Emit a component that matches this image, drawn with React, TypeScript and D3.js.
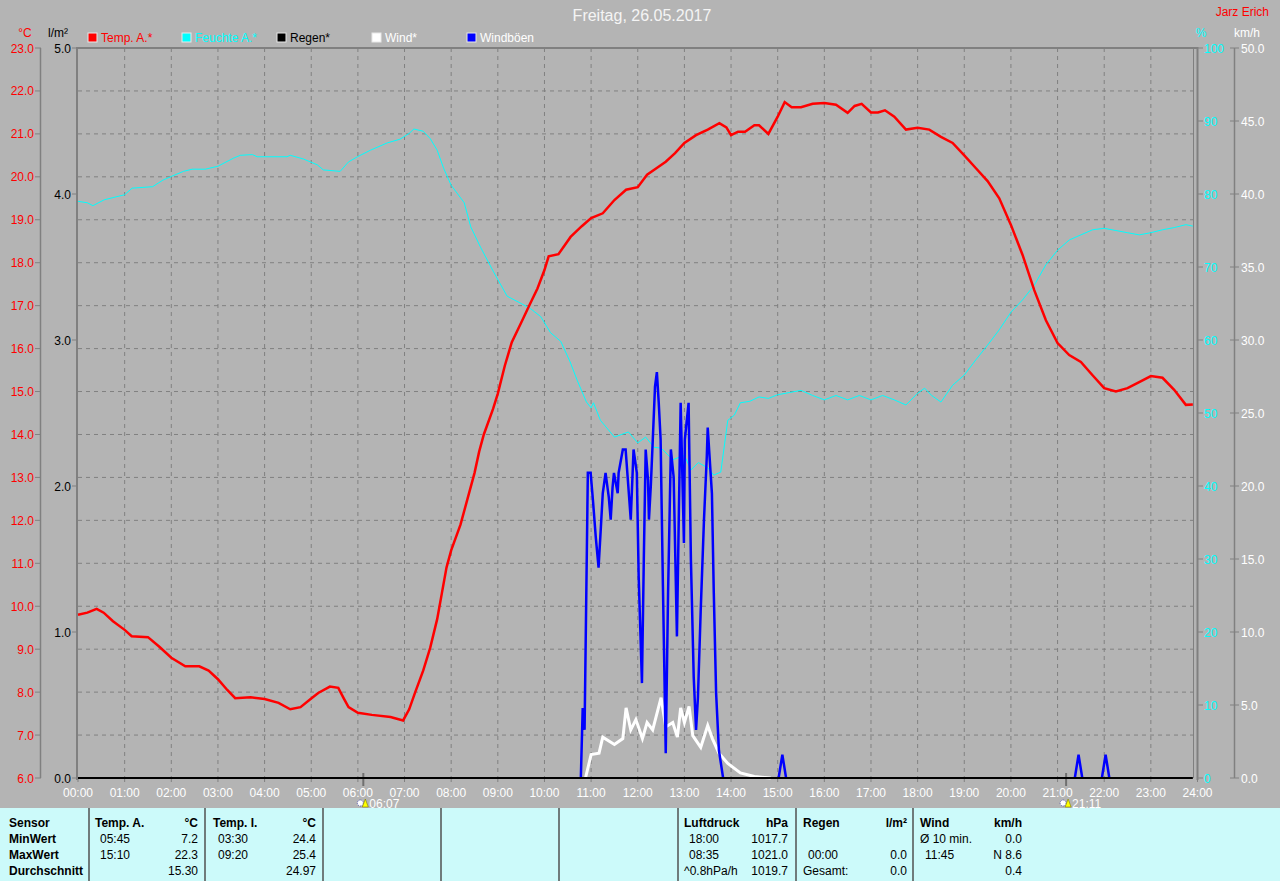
import * as d3 from 'd3';

// --- data (hour of day, value) ---
const tempA: [number, number][] = [
  [0, 9.8], [0.2, 9.85], [0.4, 9.94], [0.55, 9.85], [0.75, 9.65], [1.0, 9.45], [1.15, 9.3], [1.5, 9.28],
  [1.75, 9.05], [2.0, 8.8], [2.3, 8.6], [2.6, 8.6], [2.8, 8.5], [3.0, 8.3], [3.2, 8.05], [3.37, 7.86],
  [3.7, 7.88], [4.0, 7.84], [4.3, 7.75], [4.55, 7.6], [4.77, 7.65], [5.0, 7.85], [5.15, 7.98], [5.4, 8.13],
  [5.58, 8.1], [5.7, 7.85], [5.8, 7.65], [6.0, 7.52], [6.3, 7.47], [6.7, 7.42], [6.97, 7.34], [7.1, 7.6],
  [7.23, 8.0], [7.4, 8.5], [7.55, 9.03], [7.7, 9.7], [7.8, 10.3], [7.9, 10.9], [8.0, 11.3], [8.2, 11.9],
  [8.35, 12.5], [8.5, 13.1], [8.6, 13.6], [8.7, 14.0], [8.9, 14.6], [9.0, 14.95], [9.15, 15.6], [9.3, 16.15],
  [9.5, 16.6], [9.7, 17.06], [9.85, 17.4], [10.0, 17.83], [10.09, 18.15], [10.3, 18.2], [10.56, 18.6],
  [10.8, 18.85], [11.0, 19.04], [11.25, 19.15], [11.5, 19.46], [11.75, 19.7], [12.0, 19.76], [12.2, 20.05],
  [12.4, 20.2], [12.6, 20.35], [12.8, 20.55], [13.0, 20.79], [13.25, 20.97], [13.5, 21.1], [13.75, 21.25],
  [13.9, 21.15], [14.0, 20.97], [14.15, 21.05], [14.3, 21.05], [14.5, 21.2], [14.6, 21.2], [14.8, 21.0],
  [15.0, 21.4], [15.15, 21.74], [15.3, 21.62], [15.5, 21.62], [15.75, 21.7], [16.0, 21.72], [16.25, 21.68],
  [16.5, 21.49], [16.65, 21.65], [16.8, 21.7], [17.0, 21.5], [17.15, 21.5], [17.3, 21.55], [17.5, 21.4],
  [17.75, 21.1], [18.0, 21.14], [18.25, 21.1], [18.5, 20.93], [18.75, 20.79], [19.0, 20.5], [19.25, 20.2],
  [19.5, 19.9], [19.75, 19.5], [20.0, 18.88], [20.25, 18.18], [20.5, 17.36], [20.75, 16.66], [21.0, 16.13],
  [21.25, 15.85], [21.5, 15.69], [21.75, 15.38], [22.0, 15.08], [22.25, 15.0], [22.5, 15.08], [22.75, 15.22],
  [23.0, 15.36], [23.25, 15.32], [23.5, 15.04], [23.75, 14.69], [23.9, 14.7],
];

const feuchteA: [number, number][] = [
  [0, 79.0], [0.2, 78.8], [0.32, 78.4], [0.56, 79.2], [1.0, 79.9], [1.16, 80.8], [1.6, 81.0], [1.82, 81.9],
  [2.0, 82.4], [2.26, 83.1], [2.45, 83.4], [2.73, 83.4], [3.0, 83.8], [3.33, 84.9], [3.48, 85.3], [3.74, 85.4],
  [3.84, 85.1], [4.48, 85.1], [4.55, 85.3], [4.83, 84.8], [5.13, 84.0], [5.26, 83.3], [5.62, 83.1], [5.8, 84.4],
  [5.99, 85.1], [6.27, 86.0], [6.63, 87.0], [6.9, 87.5], [7.1, 88.3], [7.2, 88.9], [7.4, 88.6], [7.55, 87.6],
  [7.7, 86.0], [7.84, 83.5], [8.0, 81.2], [8.28, 78.8], [8.42, 75.5], [8.63, 72.7], [8.92, 69.2], [9.2, 66.0],
  [9.5, 65.0], [9.7, 64.3], [9.92, 63.2], [10.13, 61.0], [10.35, 59.8], [10.55, 57.0], [10.7, 54.5],
  [10.9, 51.5], [11.0, 50.7], [11.05, 51.4], [11.2, 49.0], [11.5, 46.7], [11.8, 47.4], [12.0, 45.9],
  [12.17, 46.7], [12.35, 45.3], [12.5, 45.2], [12.75, 43.6], [13.0, 44.2], [13.14, 42.2], [13.3, 43.2],
  [13.5, 42.5], [13.63, 41.5], [13.78, 41.9], [13.93, 49.0], [14.07, 49.7], [14.2, 51.4], [14.4, 51.6],
  [14.6, 52.2], [14.8, 52.0], [15.0, 52.5], [15.25, 52.8], [15.5, 53.1], [15.75, 52.4], [16.0, 51.8],
  [16.25, 52.4], [16.5, 51.8], [16.75, 52.4], [17.0, 51.8], [17.25, 52.4], [17.5, 51.8], [17.75, 51.1],
  [18.0, 52.7], [18.15, 53.4], [18.3, 52.4], [18.5, 51.5], [18.75, 53.8], [19.0, 55.2], [19.25, 57.3],
  [19.5, 59.3], [19.75, 61.4], [20.0, 63.8], [20.25, 65.5], [20.5, 67.5], [20.75, 70.3], [21.0, 72.3],
  [21.25, 73.7], [21.5, 74.4], [21.75, 75.1], [22.0, 75.3], [22.25, 75.0], [22.5, 74.7], [22.75, 74.4],
  [23.0, 74.7], [23.25, 75.1], [23.5, 75.4], [23.75, 75.8], [23.9, 75.6],
];

const regen: [number, number][] = [[0, 0], [23.9, 0]];

const wind: [number, number][] = [
  [10.88, 0], [11.0, 1.6], [11.17, 1.7], [11.25, 2.8], [11.5, 2.3], [11.68, 2.7], [11.75, 4.8], [11.85, 3.3],
  [11.96, 4.0], [12.1, 2.7], [12.2, 3.8], [12.32, 3.3], [12.5, 5.5], [12.6, 3.5], [12.75, 3.8], [12.85, 2.8],
  [12.92, 4.8], [13.0, 3.8], [13.1, 4.9], [13.18, 2.9], [13.35, 2.1], [13.5, 3.6], [13.6, 2.7], [13.74, 1.7],
  [13.93, 1.0], [14.2, 0.35], [14.5, 0.1], [14.85, 0],
];

const windboeen: [number, number][] = [
  [10.78, 0], [10.82, 4.8], [10.86, 3.3], [10.93, 20.9], [10.99, 20.9], [11.04, 19.0], [11.1, 16.5],
  [11.16, 14.4], [11.21, 17.2], [11.25, 19.5], [11.31, 20.9], [11.38, 19.2], [11.42, 17.7], [11.46, 19.9],
  [11.49, 20.9], [11.57, 19.5], [11.59, 20.9], [11.68, 22.5], [11.74, 22.5], [11.85, 17.7], [11.91, 22.5],
  [11.98, 20.9], [12.02, 13.8], [12.09, 6.5], [12.13, 15.0], [12.17, 22.5], [12.22, 20.4], [12.24, 17.7],
  [12.28, 20.0], [12.32, 23.0], [12.37, 26.8], [12.41, 27.8], [12.45, 25.7], [12.49, 23.2], [12.54, 13.1],
  [12.6, 1.7], [12.65, 12.7], [12.71, 22.5], [12.77, 20.6], [12.84, 9.7], [12.88, 17.9], [12.92, 25.7],
  [12.99, 16.1], [13.01, 23.2], [13.09, 25.7], [13.14, 14.9], [13.2, 6.9], [13.25, 3.3], [13.29, 5.5],
  [13.35, 11.5], [13.42, 17.7], [13.48, 22.0], [13.5, 24.0], [13.59, 19.5], [13.63, 12.7], [13.68, 5.8],
  [13.74, 1.9], [13.83, 0],
];
const boeenSpikes: [number, number][][] = [
  [[15.02, 0], [15.1, 1.6], [15.18, 0]],
  [[21.37, 0], [21.45, 1.6], [21.53, 0]],
  [[21.95, 0], [22.03, 1.6], [22.11, 0]],
];

const hourLabels = d3.range(0, 25).map(h => `${String(h).padStart(2, '0')}:00`);
const tempTicks = d3.range(6, 24, 1);
const rainTicks = d3.range(0, 6, 1);
const humTicks = d3.range(0, 101, 10);
const windTicks = d3.range(0, 51, 5);

const legend = [
  { label: 'Temp. A.*', box: '#ff0000', text: '#ff0000' },
  { label: 'Feuchte A.*', box: '#00ffff', text: '#00ffff' },
  { label: 'Regen*', box: '#000000', text: '#000000' },
  { label: 'Wind*', box: '#ffffff', text: '#ffffff' },
  { label: 'Windböen', box: '#0000ff', text: '#ffffff' },
];

const tableCols = [
  { head: ['Temp. A.', '°C'], rows: [['05:45', '7.2'], ['15:10', '22.3'], ['', '15.30']] },
  { head: ['Temp. I.', '°C'], rows: [['03:30', '24.4'], ['09:20', '25.4'], ['', '24.97']] },
];
const tableCols2 = [
  { head: ['Luftdruck', 'hPa'], rows: [['18:00', '1017.7'], ['08:35', '1021.0'], ['^0.8hPa/h', '1019.7']] },
  { head: ['Regen', 'l/m²'], rows: [['', ''], ['00:00', '0.0'], ['Gesamt:', '0.0']] },
  { head: ['Wind', 'km/h'], rows: [['Ø 10 min.', '0.0'], ['11:45', 'N 8.6'], ['', '0.4']] },
];
const rowLabels = ['Sensor', 'MinWert', 'MaxWert', 'Durchschnitt'];

const FONT = '"Liberation Sans", Arial, sans-serif';

export default function App() {
  const W = 1280, H = 881;
  const left = 78, right = 1197.5, top = 48, bottom = 778;

  const x = d3.scaleLinear().domain([0, 24]).range([left, right]);
  const yT = d3.scaleLinear().domain([6, 23]).range([bottom, top]);
  const yR = d3.scaleLinear().domain([0, 5]).range([bottom, top]);
  const yH = d3.scaleLinear().domain([0, 100]).range([bottom, top]);
  const yW = d3.scaleLinear().domain([0, 50]).range([bottom, top]);

  const line = (ys: d3.ScaleLinear<number, number>) =>
    d3.line<[number, number]>().x(d => x(d[0])).y(d => ys(d[1]));

  const f1 = d3.format('.1f');
  const grid = '#808080';
  const rowY = [827, 843, 859, 875];
  const sunrise = 6 + 7 / 60, sunset = 21 + 11 / 60;

  const colLefts = [95, 213];
  const colRights = [198, 316];
  const col2Lefts = [684, 803, 920];
  const col2Rights = [788, 907, 1022];
  const seps = [89, 205, 323, 441, 559, 678, 796, 913];

  return (
    <div style={{ position: 'absolute', left: 0, top: 0 }}>
      <svg width={W} height={H} style={{ display: 'block', fontFamily: FONT }}>
        <rect width={W} height={H} fill="#b4b4b4" />

        {/* title */}
        <text x={642} y={21} textAnchor="middle" fontSize={16} fill="#f4f4f4">Freitag, 26.05.2017</text>
        <text x={1269} y={16} textAnchor="end" fontSize={12} fill="#ff0000">Jarz Erich</text>

        {/* axis units */}
        <text x={25} y={37} textAnchor="middle" fontSize={12} fill="#ff0000">°C</text>
        <text x={58} y={37} textAnchor="middle" fontSize={12} fill="#000">l/m²</text>
        <text x={1201} y={37} textAnchor="middle" fontSize={12} fill="#00ffff">%</text>
        <text x={1247} y={37} textAnchor="middle" fontSize={12} fill="#ffffff">km/h</text>

        {/* legend */}
        {legend.map((l, i) => {
          const bx = [88, 182, 277, 372, 467][i];
          return (
            <g key={l.label}>
              <rect x={bx} y={33} width={9} height={9} fill={l.box} stroke="#e8e8e8" strokeWidth={1} />
              <text x={bx + 13} y={42} fontSize={12} fill={l.text}>{l.label}</text>
            </g>
          );
        })}

        {/* grid */}
        {d3.range(1, 24).map(h => (
          <line key={`v${h}`} x1={x(h)} x2={x(h)} y1={top} y2={bottom} stroke={grid} strokeDasharray="4,4" />
        ))}
        {d3.range(7, 23).map(t => (
          <line key={`h${t}`} x1={left} x2={right} y1={yT(t)} y2={yT(t)} stroke={grid} strokeDasharray="4,4" />
        ))}

        {/* frame */}
        <line x1={left - 1} x2={right} y1={top} y2={top} stroke={grid} strokeWidth={2} />
        <line x1={left - 1} x2={left - 1} y1={top - 1} y2={bottom + 2} stroke={grid} strokeWidth={2} />
        <line x1={1193.5} x2={1193.5} y1={top} y2={bottom} stroke={grid} strokeWidth={1} />
        <line x1={right} x2={right} y1={top - 1} y2={bottom + 2} stroke={grid} strokeWidth={2} />

        {/* hour ticks & labels */}
        {hourLabels.map((lab, h) => (
          <g key={lab}>
            <line x1={x(h)} x2={x(h)} y1={bottom} y2={bottom + 4} stroke={grid} />
            <text x={x(h)} y={797} textAnchor="middle" fontSize={12} fill="#ffffff">{lab}</text>
          </g>
        ))}

        {/* temperature axis */}
        <line x1={40.5} x2={40.5} y1={top} y2={bottom} stroke={grid} strokeWidth={1.5} />
        {tempTicks.map(t => (
          <g key={`t${t}`}>
            <line x1={35} x2={41} y1={yT(t)} y2={yT(t)} stroke={grid} />
            <text x={34} y={yT(t) + 4.5} textAnchor="end" fontSize={12} fill="#ff0000">{f1(t)}</text>
          </g>
        ))}

        {/* rain axis */}
        {rainTicks.map(r => (
          <g key={`r${r}`}>
            <line x1={72} x2={77} y1={yR(r)} y2={yR(r)} stroke={grid} />
            <text x={71} y={yR(r) + 4.5} textAnchor="end" fontSize={12} fill="#000">{f1(r)}</text>
          </g>
        ))}

        {/* humidity axis */}
        {humTicks.map(h => (
          <g key={`hu${h}`}>
            <line x1={1198} x2={1203} y1={yH(h)} y2={yH(h)} stroke={grid} />
            <text x={1204} y={yH(h) + 4.5} fontSize={12} fill="#00ffff">{h}</text>
          </g>
        ))}

        {/* wind axis */}
        <line x1={1234.5} x2={1234.5} y1={top} y2={bottom} stroke={grid} strokeWidth={1.5} />
        {windTicks.map(w => (
          <g key={`w${w}`}>
            <line x1={1230} x2={1239} y1={yW(w)} y2={yW(w)} stroke={grid} />
            <text x={1241} y={yW(w) + 4.5} fontSize={12} fill="#ffffff">{f1(w)}</text>
          </g>
        ))}

        {/* sunrise / sunset markers */}
        {[sunrise, sunset].map((s, i) => (
          <g key={`sun${i}`}>
            <line x1={x(s)} x2={x(s)} y1={bottom - 5} y2={bottom + 8} stroke="#707070" strokeWidth={2} />
            <circle cx={x(s) - 3} cy={803} r={3} fill="#ffffff" stroke="#3030a0" strokeDasharray="1,1" strokeWidth={0.8} />
            <path d={`M${x(s) - 1},807 L${x(s) + 2},799 L${x(s) + 5},807 Z`} fill="#ffff00" stroke="#808000" strokeWidth={0.6} />
            <text x={x(s) + 6} y={808} fontSize={12} fill="#ffffff">{i === 0 ? '06:07' : '21:11'}</text>
          </g>
        ))}

        {/* series */}
        <path d={line(yH)(feuchteA) ?? ''} fill="none" stroke="#00ffff" strokeWidth={1} />
        <path d={line(yT)(tempA) ?? ''} fill="none" stroke="#ff0000" strokeWidth={2.5} />
        <path d={line(yW)(wind) ?? ''} fill="none" stroke="#ffffff" strokeWidth={3} />
        <path d={line(yW)(windboeen) ?? ''} fill="none" stroke="#0000ff" strokeWidth={2.5} />
        {boeenSpikes.map((s, i) => (
          <path key={`sp${i}`} d={line(yW)(s) ?? ''} fill="none" stroke="#0000ff" strokeWidth={2.5} />
        ))}
        <path d={line(yR)(regen) ?? ''} fill="none" stroke="#000000" strokeWidth={2} />

        {/* stats table */}
        <rect x={0} y={808} width={W} height={H - 808} fill="#ccfafa" />
        {seps.map(s => (
          <line key={`sep${s}`} x1={s} x2={s} y1={808} y2={H} stroke="#505050" strokeWidth={1.5} />
        ))}
        {rowLabels.map((r, i) => (
          <text key={r} x={9} y={rowY[i]} fontSize={12} fontWeight="bold" fill="#000">{r}</text>
        ))}
        {[...tableCols.map((c, i) => ({ c, l: colLefts[i], r: colRights[i] })),
          ...tableCols2.map((c, i) => ({ c, l: col2Lefts[i], r: col2Rights[i] }))].map(({ c, l, r }) => (
          <g key={c.head[0]}>
            <text x={l} y={rowY[0]} fontSize={12} fontWeight="bold" fill="#000">{c.head[0]}</text>
            <text x={r} y={rowY[0]} fontSize={12} fontWeight="bold" fill="#000" textAnchor="end">{c.head[1]}</text>
            {c.rows.map((row, j) => (
              <g key={j}>
                <text x={row[0].startsWith('^') || row[0].startsWith('G') || row[0].startsWith('Ø') ? l : l + 5}
                  y={rowY[j + 1]} fontSize={12} fill="#000">{row[0]}</text>
                <text x={r} y={rowY[j + 1]} fontSize={12} fill="#000" textAnchor="end">{row[1]}</text>
              </g>
            ))}
          </g>
        ))}
      </svg>
    </div>
  );
}
